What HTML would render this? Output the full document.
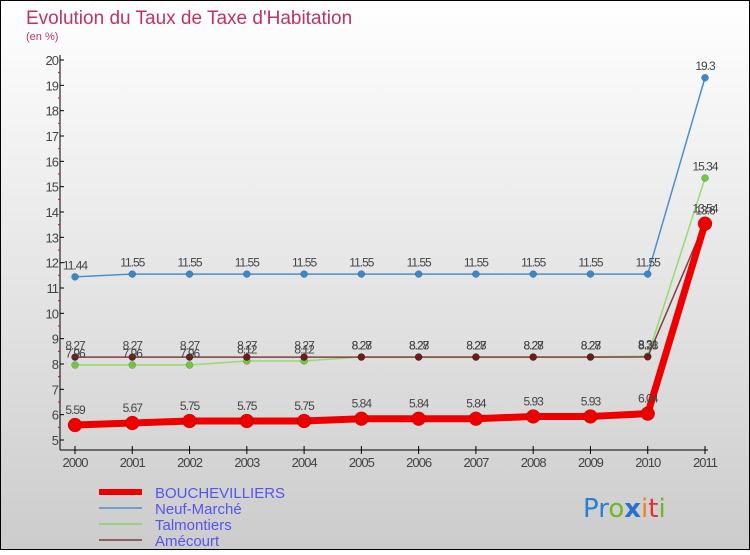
<!DOCTYPE html>
<html><head><meta charset="utf-8"><style>
html,body{margin:0;padding:0}
body{width:750px;height:550px;overflow:hidden;font-family:"Liberation Sans",sans-serif}
</style></head><body>
<svg id="c" width="750" height="550" xmlns="http://www.w3.org/2000/svg">
<defs><linearGradient id="bg" x1="0" y1="0" x2="0" y2="1"><stop offset="0" stop-color="#ffffff"/><stop offset="1" stop-color="#cccccc"/></linearGradient></defs>
<rect x="0.5" y="0.5" width="749" height="549" fill="url(#bg)" stroke="#000"/>
<text x="26" y="24" font-size="19" fill="#c0335e">Evolution du Taux de Taxe d'Habitation</text>
<text x="26" y="40" font-size="11" fill="#c0335e">(en %)</text>
<g id="axes"></g><g id="series"></g><g id="labels"></g>
<g>
<line x1="99" y1="492" x2="142" y2="492" stroke="#ee0000" stroke-width="6"/>
<text x="155" y="498" font-size="15" fill="#5555ee">BOUCHEVILLIERS</text>
<line x1="99" y1="508" x2="142" y2="508" stroke="#6fa0c8" stroke-width="2"/>
<text x="155" y="514" font-size="15" fill="#5555ee">Neuf-Marché</text>
<line x1="99" y1="524" x2="142" y2="524" stroke="#9ad080" stroke-width="2"/>
<text x="155" y="530" font-size="15" fill="#5555ee">Talmontiers</text>
<line x1="99" y1="540" x2="142" y2="540" stroke="#8a6060" stroke-width="2"/>
<text x="155" y="546" font-size="15" fill="#5555ee">Amécourt</text>
</g>
<text x="583" y="517" font-size="26" font-family="'DejaVu Sans',sans-serif"><tspan fill="#2a7fd0">Pr</tspan><tspan fill="#6cb82a">o</tspan><tspan fill="#2a6fd0" font-weight="bold">x</tspan><tspan fill="#f08020">i</tspan><tspan fill="#e03030">t</tspan><tspan fill="#6cb82a">i</tspan></text>
</svg>
<script>
const years=[2000,2001,2002,2003,2004,2005,2006,2007,2008,2009,2010,2011];
const yTicks=[5,6,7,8,9,10,11,12,13,14,15,16,17,18,19,20];
const bouche=[5.59,5.67,5.75,5.75,5.75,5.84,5.84,5.84,5.93,5.93,6.04,13.54];
const neuf=[11.44,11.55,11.55,11.55,11.55,11.55,11.55,11.55,11.55,11.55,11.55,19.3];
const talm=[7.96,7.96,7.96,8.12,8.12,8.28,8.28,8.28,8.28,8.28,8.31,15.34];
const ame=[8.27,8.27,8.27,8.27,8.27,8.27,8.27,8.27,8.27,8.27,8.28,13.6];
const NS="http://www.w3.org/2000/svg";
const X=i=>75+i*(630/11);
const Y=v=>440-(v-5)*(380/15);
function mk(p,t,a){const e=document.createElementNS(NS,t);for(const k in a)e.setAttribute(k,a[k]);p.appendChild(e);return e;}
const ax=document.getElementById('axes');
let l=mk(ax,'line',{x1:60,y1:55,x2:60,y2:450,stroke:'#000'});


l=mk(ax,'line',{x1:60,y1:450,x2:708,y2:450,stroke:'#000'});


yTicks.forEach(v=>{
 mk(ax,'line',{x1:60,y1:Y(v),x2:64,y2:Y(v),stroke:'#000'});
 if(v<20) mk(ax,'line',{x1:58,y1:Y(v+0.5),x2:60,y2:Y(v+0.5),stroke:'#e00'});
 const t=mk(ax,'text',{x:58,y:Y(v)+5,'font-size':13,fill:'#444','text-anchor':'end','letter-spacing':'-1'});
 t.textContent=v;
 
 
});
years.forEach((y,i)=>{
 mk(ax,'line',{x1:X(i),y1:446,x2:X(i),y2:454,stroke:'#000'});
 const t=mk(ax,'text',{x:X(i),y:467,'font-size':13,fill:'#444','text-anchor':'middle','letter-spacing':'-1'});
 t.textContent=y;
 
 
});
const sg=document.getElementById('series'),lg=document.getElementById('labels');
function draw(vals,name,color,dot,w,r){
 const g=mk(sg,'g',{});
 
 
 mk(g,'polyline',{points:vals.map((v,i)=>X(i)+','+Y(v)).join(' '),fill:'none',stroke:color,'stroke-width':w,'stroke-linejoin':'round'});
 vals.forEach((v,i)=>{
  const c=mk(g,'circle',{cx:X(i),cy:Y(v),r:r,fill:dot,stroke:'rgba(0,0,0,0.3)','stroke-width':0.5});
  
  
  const t=mk(lg,'text',{x:X(i),y:Y(v)-r-4,'font-size':12,fill:'#444','text-anchor':'middle','letter-spacing':'-1'});
  t.textContent=v;
  
  
 });
}
draw(neuf,'neuf-marche','#4a90d0','#3a88c8',1.5,3.5);
draw(talm,'talmontiers','#9ad870','#70c840',1.5,3.5);
draw(ame,'amecourt','#804040','#6a1c1c',1.5,3.5);
draw(bouche,'bouchevilliers','#ee0000','#ee0000',7,7);
</script>
</body></html>
